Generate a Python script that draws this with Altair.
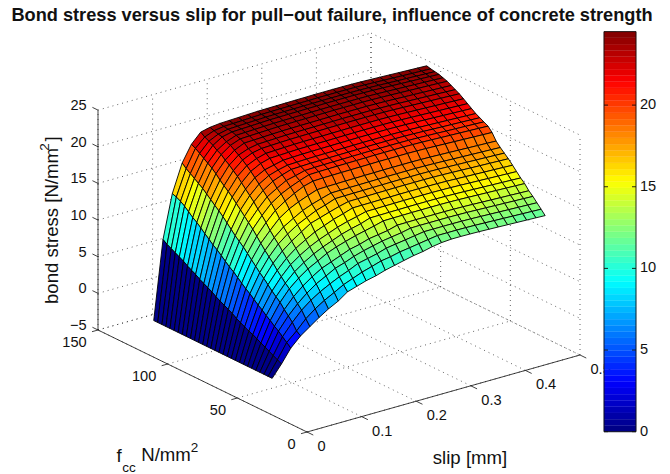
import altair as alt

SLIP = [0.0, 0.017, 0.034, 0.052, 0.069, 0.086, 0.103, 0.121, 0.138, 0.155, 0.172, 0.19, 0.207, 0.224, 0.241,
        0.259, 0.276, 0.293, 0.31, 0.328, 0.345, 0.362, 0.379, 0.397, 0.414, 0.431, 0.448, 0.466, 0.483, 0.5]
FCC = [25.0, 27.9, 30.9, 33.8, 36.7, 39.7, 42.6, 45.5, 48.4, 51.4, 54.3, 57.2, 60.2, 63.1, 66.0,
       69.0, 71.9, 74.8, 77.8, 80.7, 83.6, 86.6, 89.5, 92.4, 95.3, 98.3, 101.2, 104.1, 107.1, 110.0]
END_VALUE = [11.7, 12.3, 12.9, 13.5, 14.0, 14.7, 15.2, 15.8, 16.4, 17.0, 17.5, 18.0, 18.6, 19.5, 20.1,
             20.4, 20.7, 21.0, 21.4, 21.8, 22.2, 22.6, 22.9, 23.2, 23.5, 23.7, 23.9, 24.0, 24.1, 24.25]
SAG = [0.0, 0.0, 0.0, 0.0, 0.0, 0.0, 0.05, 0.1, 0.15, 0.2, 0.25, 0.3, 0.32, 0.34, 0.35,
       0.37, 0.38, 0.4, 0.4, 0.4, 0.4, 0.38, 0.35, 0.3, 0.25, 0.2, 0.15, 0.1, 0.05, 0.0]
RISE = [
    [1.6, 3.4, 4.7, 5.6, 6.5, 7.3, 8.0, 8.9, 9.3, 9.7, 10.0, 10.4, 10.7, 11.0, 11.3, 11.5, 11.8, 12.0],
    [1.9, 3.9, 5.1, 6.4, 7.4, 8.2, 8.9, 9.6, 10.1, 10.6, 11.0, 11.4, 11.6, 11.9, 12.1, 12.3, 12.5],
    [2.2, 4.4, 6.0, 7.3, 8.3, 9.1, 9.8, 10.4, 10.9, 11.5, 11.8, 12.1, 12.5, 12.7, 12.9, 13.1],
    [2.5, 4.9, 6.6, 7.9, 9.0, 9.9, 10.6, 11.3, 11.7, 12.2, 12.6, 12.9, 13.2, 13.4, 13.6],
    [2.8, 5.3, 7.2, 8.6, 9.7, 10.6, 11.4, 11.9, 12.4, 12.9, 13.2, 13.6, 13.8, 14.0],
    [3.1, 5.8, 7.9, 9.4, 10.5, 11.4, 12.1, 12.8, 13.3, 13.7, 14.1, 14.4, 14.7],
    [3.4, 6.2, 8.4, 9.9, 11.1, 12.0, 12.8, 13.4, 13.9, 14.4, 14.8, 15.1],
    [3.7, 6.7, 8.9, 10.5, 11.8, 12.7, 13.5, 14.1, 14.6, 15.1, 15.5, 15.8],
    [3.9, 7.1, 9.5, 11.1, 12.4, 13.4, 14.2, 14.9, 15.4, 15.9, 16.3],
    [4.2, 7.6, 10.1, 11.8, 13.1, 14.1, 15.0, 15.8, 16.2, 16.6, 17.0],
    [4.5, 8.1, 10.6, 12.4, 13.8, 14.8, 15.7, 16.3, 16.9, 17.3],
    [4.8, 8.5, 11.2, 13.0, 14.4, 15.5, 16.3, 17.0, 17.5, 17.9],
    [5.2, 9.0, 11.8, 13.7, 15.1, 16.4, 17.3, 17.9, 18.4],
    [5.5, 9.5, 12.4, 14.4, 15.9, 17.2, 18.1, 18.8, 19.4],
    [5.8, 10.0, 13.0, 15.1, 16.6, 17.9, 18.8, 19.4, 19.9],
    [6.1, 10.4, 13.5, 15.7, 17.2, 18.5, 19.3, 20.0, 20.3],
    [6.4, 10.9, 14.0, 16.3, 17.9, 19.1, 20.0, 20.5],
    [6.8, 11.4, 14.6, 16.9, 18.5, 19.7, 20.5, 20.9],
    [7.1, 11.9, 15.2, 17.5, 19.1, 20.3, 21.0, 21.3],
    [7.4, 12.3, 15.8, 18.1, 19.7, 20.9, 21.6],
    [7.7, 12.8, 16.3, 18.6, 20.3, 21.4, 22.0],
    [8.1, 13.3, 16.8, 19.1, 20.8, 21.9, 22.5],
    [8.4, 13.8, 17.3, 19.6, 21.3, 22.3, 22.8],
    [8.7, 14.3, 17.8, 20.2, 21.7, 22.7],
    [9.1, 14.7, 18.3, 20.7, 22.2, 23.1],
    [9.4, 15.2, 18.7, 21.1, 22.5, 23.3],
    [9.7, 15.7, 19.1, 21.5, 22.9, 23.7],
    [10.0, 16.1, 19.5, 21.9, 23.2, 23.8],
    [10.3, 16.4, 19.9, 22.3, 23.5, 24.0],
    [10.7, 16.6, 20.4, 22.6, 23.9, 24.2],
]
SLIP_TICKS = [0, 0.1, 0.2, 0.3, 0.4, 0.5]
SLIP_LABELS = ["0", "0.1", "0.2", "0.3", "0.4", "0.5"]
FCC_TICKS = [0, 50, 100, 150]
Z_TICKS = [-5, 0, 5, 10, 15, 20, 25]
CBAR_TICKS = [0, 5, 10, 15, 20]
CMAX = 24.5
FONT = "Liberation Sans"
W, H = 654, 466


def P(s, f, z):
    return (307 + s / 0.5 * 273 - f / 150 * 209 - 8,
            432 - s / 0.5 * 77 - f / 150 * 102 - (z + 5) * 7.33 - 8)


def jet(i, n=64):
    v = (i + 0.5) / n * 4
    def c(x):
        return int(round(255 * max(0.0, min(1.0, x))))
    r = min(v - 1.5, 4.5 - v)
    g = min(v - 0.5, 3.5 - v)
    b = min(v + 0.5, 2.5 - v)
    return "#%02x%02x%02x" % (c(r), c(g), c(b))


JET = [jet(i) for i in range(64)]
color_scale = alt.Scale(domain=list(range(64)), range=JET)
proj = dict(type="identity", scale=1, translate=[0, 0])
px = alt.Scale(domain=[0, W], range=[0, W])
py = alt.Scale(domain=[0, H], range=[0, H])


def level(v):
    return max(0, min(63, int(v / CMAX * 64)))


def poly(points, lev):
    ring = [list(p) for p in points]
    ring.append(ring[0])
    return {"type": "Feature", "geometry": {"type": "Polygon", "coordinates": [ring]}, "properties": {"level": lev}}


def line(a, b):
    return {"type": "Feature", "geometry": {"type": "LineString", "coordinates": [list(a), list(b)]}, "properties": {}}


Z = []
for j in range(len(FCC)):
    n = len(RISE[j]) + 1
    Z.append([0.0] + RISE[j] + [END_VALUE[j] + SAG[i] for i in range(n, len(SLIP))])

cells = []
for j in range(len(FCC) - 2, -1, -1):
    for i in range(len(SLIP) - 2, -1, -1):
        cells.append(poly([P(SLIP[i], FCC[j], Z[j][i]), P(SLIP[i + 1], FCC[j], Z[j][i + 1]),
                           P(SLIP[i + 1], FCC[j + 1], Z[j + 1][i + 1]), P(SLIP[i], FCC[j + 1], Z[j + 1][i])],
                          level(Z[j][i])))

grid = []
for s in SLIP_TICKS:
    grid.append(line(P(s, 0, -5), P(s, 150, -5)))
    grid.append(line(P(s, 150, -5), P(s, 150, 25)))
for f in FCC_TICKS:
    grid.append(line(P(0, f, -5), P(0.5, f, -5)))
    grid.append(line(P(0.5, f, -5), P(0.5, f, 25)))
for z in Z_TICKS:
    grid.append(line(P(0, 150, z), P(0.5, 150, z)))
    grid.append(line(P(0.5, 150, z), P(0.5, 0, z)))

axes = [line(P(0, 0, -5), P(0.5, 0, -5)), line(P(0, 0, -5), P(0, 150, -5)), line(P(0, 150, -5), P(0, 150, 25))]
for s in SLIP_TICKS:
    axes.append(line(P(s, 0, -5), P(s, -4.5, -5)))
for f in FCC_TICKS:
    axes.append(line(P(0, f, -5), P(-0.011, f, -5)))
for z in Z_TICKS:
    axes.append(line(P(0, 150, z), P(0, 154, z)))

CB_L, CB_R, CB_B = 604 - 8, 636 - 8, 431.7 - 8
CB_K = 16.33


def cb_y(v):
    return CB_B - v * CB_K


cbar = [poly([(CB_L, cb_y(CMAX * k / 64)), (CB_R, cb_y(CMAX * k / 64)),
              (CB_R, cb_y(CMAX * (k + 1) / 64)), (CB_L, cb_y(CMAX * (k + 1) / 64))], k) for k in range(64)]
cframe = [line((CB_L, cb_y(0)), (CB_R, cb_y(0))), line((CB_R, cb_y(0)), (CB_R, cb_y(CMAX))),
          line((CB_R, cb_y(CMAX)), (CB_L, cb_y(CMAX))), line((CB_L, cb_y(CMAX)), (CB_L, cb_y(0)))]
for v in CBAR_TICKS:
    cframe.append(line((CB_L, cb_y(v)), (CB_L + 4, cb_y(v))))
    cframe.append(line((CB_R - 4, cb_y(v)), (CB_R, cb_y(v))))


def geo(features):
    return alt.Chart(alt.Data(values=features))


surface = geo(cells).mark_geoshape(stroke="black", strokeWidth=0.9).encode(
    fill=alt.Fill("properties.level:O", scale=color_scale, legend=None)).project(**proj)
cbar_layer = geo(cbar).mark_geoshape(strokeWidth=0.3).encode(
    fill=alt.Fill("properties.level:O", scale=color_scale, legend=None),
    stroke=alt.Stroke("properties.level:O", scale=color_scale, legend=None)).project(**proj)
grid_layer = geo(grid).mark_geoshape(filled=False, stroke="#222222", strokeWidth=0.7, strokeDash=[1, 4]).project(**proj)
axes_layer = geo(axes).mark_geoshape(filled=False, stroke="#111111", strokeWidth=0.8).project(**proj)
cframe_layer = geo(cframe).mark_geoshape(filled=False, stroke="#111111", strokeWidth=0.9).project(**proj)


def text_layer(rows, align="center", size=14.6, weight="normal", angle=0):
    return alt.Chart(alt.Data(values=rows)).mark_text(
        align=align, baseline="middle", font=FONT, fontSize=size, fontWeight=weight, angle=angle, color="#111111"
    ).encode(x=alt.X("x:Q", scale=px, axis=None), y=alt.Y("y:Q", scale=py, axis=None), text="t:N")


def row(t, x, y):
    return {"t": t, "x": x - 8, "y": y - 8}


slip_rows = []
for s, lab in zip(SLIP_TICKS, SLIP_LABELS):
    x, y = P(s, 0, -5)
    slip_rows.append({"t": lab, "x": x + 10.5, "y": y + 15})
fcc_rows = []
for f in FCC_TICKS:
    x, y = P(0, f, -5)
    fcc_rows.append({"t": str(f), "x": x - 11.3, "y": y + 13.3})
for z in Z_TICKS:
    x, y = P(0, 150, z)
    fcc_rows.append({"t": str(z).replace("-", "\u2212"), "x": x - 11.3, "y": y - 4})
cb_rows = [{"t": str(v), "x": CB_R + 4, "y": cb_y(v)} for v in CBAR_TICKS]

chart = alt.layer(
    grid_layer,
    axes_layer,
    surface,
    text_layer(slip_rows, align="left"),
    text_layer(fcc_rows, align="right"),
    cbar_layer,
    cframe_layer,
    text_layer(cb_rows, align="left"),
    text_layer([row("Bond stress versus slip for pull\u2212out failure, influence of concrete strength", 332, 16)],
               size=18.2, weight="bold"),
    text_layer([row("slip [mm]", 470, 458)], size=18.6),
    text_layer([row("bond stress [N/mm", 52, 226)], size=18.6, angle=270),
    text_layer([row("2", 44.5, 147)], size=13.5, angle=270),
    text_layer([row("]", 52, 139)], size=18.6, angle=270),
    text_layer([row("f", 119, 456)], size=18.6),
    text_layer([row("cc", 129, 468)], size=13.5),
    text_layer([row("N/mm", 166, 455)], size=18.6),
    text_layer([row("2", 194.5, 448)], size=13.5),
).properties(width=W, height=H, padding=0, autosize=alt.AutoSizeParams(type="none")).configure_view(stroke=None)

chart.save("out.html", embed_options={"renderer": "svg", "actions": False})
